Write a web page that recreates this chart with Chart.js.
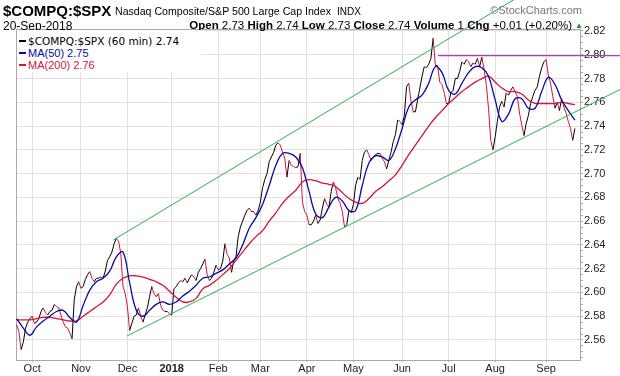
<!DOCTYPE html>
<html><head><meta charset="utf-8">
<script src="https://cdn.jsdelivr.net/npm/chart.js@4/dist/chart.umd.min.js"></script>
<style>
body{margin:0;background:#fff;}
#wrap{position:relative;width:620px;height:376px;overflow:hidden;background:#fff;}
canvas{position:absolute;left:0;top:0;}
.t{position:absolute;white-space:nowrap;font-family:"Liberation Sans",Arial,sans-serif;color:#000;line-height:1;z-index:2;}
#legend{position:absolute;left:17px;top:30px;width:184px;height:42px;background:#fff;z-index:2;}
.le{position:absolute;left:2px;white-space:nowrap;line-height:12px;height:12px;}
.le span.d{display:inline-block;width:7px;height:2px;vertical-align:middle;margin-right:2px;position:relative;top:-1px;}
</style></head><body>
<div id="wrap">
<canvas id="c" width="620" height="376"></canvas>
<div class="t" id="sym" style="left:3px;top:3px;font-size:15px;font-weight:bold"></div>
<div class="t" id="name" style="left:115px;top:6px;font-size:10.6px"></div>
<div class="t" id="exch" style="left:337px;top:7px;font-size:10px"></div>
<div class="t" id="copy" style="right:38px;top:5px;font-size:11px;color:#777"></div>
<div class="t" id="date" style="left:3px;top:20px;font-size:12px"></div>
<div class="t" id="quote" style="right:48px;top:20px;font-size:11.5px"></div>
<div class="t" style="left:575px;top:22px;font-size:8px;color:#2a8a2a">▲</div>
<div id="legend"></div>
</div>
<script>
// ---- text ----
const symbol = '$COMPQ:$SPX';
const symbolName = 'Nasdaq Composite/S&P 500 Large Cap Index';
const exchange = 'INDX';
const copyright = '©StockCharts.com';
const dateText = '20-Sep-2018';
const quoteLabels = ['Open', 'High', 'Low', 'Close', 'Volume', 'Chg'];
const quoteValues = ['2.73', '2.74', '2.73', '2.74', '1', '+0.01 (+0.20%)'];
const legendLabels = ['$COMPQ:$SPX (60 min) 2.74', 'MA(50) 2.75', 'MA(200) 2.76'];

// ---- axes ----
const monthLabels = ['Oct', 'Nov', 'Dec', '2018', 'Feb', 'Mar', 'Apr', 'May', 'Jun', 'Jul', 'Aug', 'Sep'];
const monthStartDay = [7, 29, 50, 70, 91, 110, 131, 152, 174, 195, 216, 239]; // trading-day index of month start
const yTickLabels = [2.56, 2.58, 2.60, 2.62, 2.64, 2.66, 2.68, 2.70, 2.72, 2.74, 2.76, 2.78, 2.80, 2.82];

// ---- series (one value per trading day) ----
const price = [
2.573,2.567,2.552,2.558,2.570,2.575,2.578,2.580,2.574,2.575,
2.578,2.584,2.587,2.583,2.581,2.584,2.585,2.590,2.588,2.587,
2.581,2.575,2.571,2.570,2.566,2.561,2.594,2.605,2.609,2.6035,
2.605,2.611,2.615,2.6175,2.612,2.609,2.612,2.612,2.613,2.612,
2.618,2.627,2.630,2.634,2.641,2.6455,2.643,2.633,2.605,2.599,
2.588,2.568,2.574,2.580,2.581,2.587,2.580,2.575,2.581,2.587,
2.5965,2.605,2.599,2.5965,2.599,2.589,2.585,2.584,2.584,2.582,
2.581,2.603,2.605,2.608,2.610,2.609,2.612,2.608,2.612,2.615,
2.613,2.610,2.617,2.620,2.624,2.628,2.615,2.610,2.612,2.617,
2.623,2.619,2.620,2.626,2.641,2.632,2.629,2.617,2.627,2.630,
2.647,2.655,2.660,2.665,2.669,2.671,2.668,2.668,2.665,2.669,
2.676,2.688,2.695,2.700,2.710,2.714,2.718,2.724,2.726,2.724,
2.718,2.713,2.697,2.711,2.707,2.706,2.705,2.706,2.717,2.676,
2.668,2.665,2.657,2.657,2.660,2.665,2.658,2.661,2.671,2.679,
2.674,2.672,2.685,2.693,2.688,2.679,2.675,2.668,2.655,2.657,
2.669,2.667,2.674,2.690,2.697,2.695,2.711,2.718,2.720,2.716,
2.711,2.714,2.716,2.717,2.717,2.713,2.710,2.704,2.711,2.718,
2.727,2.733,2.745,2.744,2.741,2.749,2.773,2.776,2.761,2.752,
2.752,2.762,2.772,2.782,2.790,2.789,2.792,2.797,2.814,2.791,
2.791,2.777,2.775,2.768,2.759,2.759,2.768,2.770,2.780,2.780,
2.786,2.794,2.792,2.796,2.794,2.790,2.793,2.792,2.797,2.790,
2.798,2.788,2.775,2.755,2.728,2.720,2.731,2.744,2.756,2.761,
2.756,2.768,2.766,2.770,2.773,2.769,2.765,2.751,2.741,2.732,
2.742,2.749,2.759,2.765,2.770,2.773,2.782,2.789,2.794,2.796,
2.783,2.776,2.765,2.755,2.760,2.753,2.763,2.756,2.751,2.744,
2.738,2.728,2.738
];
const maStep = 3; // moving averages read every 3 trading days
const ma50 = [
2.578,2.570,2.564,2.571,2.576,2.580,2.584,2.585,2.579,2.575,
2.589,2.602,2.609,2.612,2.618,2.630,2.634,2.608,2.585,2.580,
2.585,2.590,2.592,2.590,2.592,2.597,2.601,2.606,2.612,2.613,
2.616,2.619,2.624,2.629,2.640,2.654,2.663,2.674,2.690,2.707,
2.717,2.717,2.714,2.705,2.685,2.666,2.663,2.672,2.680,2.677,
2.669,2.669,2.690,2.709,2.715,2.714,2.711,2.721,2.738,2.756,
2.762,2.766,2.776,2.790,2.785,2.770,2.767,2.776,2.785,2.790,
2.789,2.782,2.762,2.744,2.750,2.763,2.763,2.755,2.755,2.769,
2.781,2.775,2.762,2.753,2.745
];
const ma200 = [
2.577,2.577,2.577,2.578,2.579,2.579,2.578,2.577,2.576,2.576,
2.580,2.584,2.588,2.592,2.598,2.607,2.612,2.614,2.614,2.613,
2.611,2.609,2.606,2.601,2.596,2.592,2.592,2.595,2.603,2.606,
2.610,2.615,2.620,2.627,2.634,2.641,2.647,2.652,2.660,2.667,
2.675,2.681,2.686,2.693,2.695,2.694,2.692,2.691,2.689,2.684,
2.679,2.676,2.675,2.679,2.685,2.689,2.694,2.699,2.707,2.716,
2.724,2.732,2.740,2.747,2.753,2.759,2.764,2.769,2.773,2.777,
2.780,2.782,2.777,2.772,2.769,2.769,2.767,2.762,2.759,2.759,
2.759,2.759,2.760,2.759,2.758
];
// trend lines: [trading-day index, value]
const upperChannel = [[43.6, 2.6441], [230, 2.8526]];
const lowerChannel = [[49.8, 2.5634], [272.4, 2.7708]];
const resistance = [[190.2, 2.7992], [272.4, 2.7992]];

// ---- colours ----
const C = {up:'#000000', down:'#d0143c', ma50:'#0a0a9c', ma200:'#d4143c', green:'#2cb04c', purple:'#a83cc4', grid:'#e0e0e0', frame:'#a9a9a9'};

// ---- header DOM ----
document.getElementById('sym').textContent = symbol;
document.getElementById('name').textContent = symbolName;
document.getElementById('exch').textContent = exchange;
document.getElementById('copy').textContent = copyright;
document.getElementById('date').textContent = dateText;
const q = document.getElementById('quote');
quoteLabels.forEach((l, i) => {
  const b = document.createElement('b'); b.textContent = l; q.appendChild(b);
  q.appendChild(document.createTextNode(' ' + quoteValues[i] + (i < quoteLabels.length - 1 ? ' ' : '')));
});
const legendColors = [C.up, C.ma50, C.ma200];
const lg = document.getElementById('legend');
legendLabels.forEach((l, i) => {
  const d = document.createElement('div'); d.className = 'le'; d.style.top = (i * 12 + 5) + 'px';
  d.style.color = i === 0 ? '#000' : legendColors[i];
  d.style.fontFamily = i === 0 ? '"DejaVu Sans",Verdana,sans-serif' : '"Liberation Sans",Arial,sans-serif';
  d.style.fontSize = i === 0 ? '10.5px' : '11px';
  const s = document.createElement('span'); s.className = 'd'; s.style.background = legendColors[i];
  d.appendChild(s); d.appendChild(document.createTextNode(l)); lg.appendChild(d);
});

// ---- chart ----
const font = '"Liberation Sans", Arial, sans-serif';
const pts = arr => arr.map(p => ({x: p[0], y: p[1]}));
const yMin = 2.54317, yMax = 2.82168;
const isMajor = v => Math.abs(v * 50 - Math.round(v * 50)) < 1e-6;

const frame = {
  id: 'frame',
  beforeDatasetsDraw(ch) {
    const a = ch.chartArea, g = ch.ctx;
    g.save(); g.strokeStyle = C.frame; g.lineWidth = 1;
    g.beginPath();
    g.moveTo(Math.round(a.left) + 0.5, Math.round(a.bottom) + 0.5);
    g.lineTo(Math.round(a.left) + 0.5, Math.round(a.top) + 0.5);
    g.lineTo(Math.round(a.right) + 0.5, Math.round(a.top) + 0.5);
    g.stroke(); g.restore();
  }
};

new Chart(document.getElementById('c'), {
  type: 'line',
  data: {
    datasets: [
      {data: pts(upperChannel), borderColor: C.green, borderWidth: 1, clip: false, order: 0},
      {data: pts(lowerChannel), borderColor: C.green, borderWidth: 1, clip: false, order: 0},
      {data: pts(resistance), borderColor: C.purple, borderWidth: 1.3, clip: false, order: 0},
      {data: ma50.map((v, k) => ({x: k * maStep, y: v})), borderColor: C.ma50, borderWidth: 1.3, tension: 0.4, order: 1},
      {data: ma200.map((v, k) => ({x: k * maStep, y: v})), borderColor: C.ma200, borderWidth: 1.3, tension: 0.4, order: 1},
      {data: price.map((v, i) => ({x: i, y: v})), borderWidth: 1, borderColor: C.up,
       segment: {borderColor: c => c.p1.parsed.y < c.p0.parsed.y ? C.down : C.up}, order: 2}
    ]
  },
  options: {
    responsive: false, animation: false, devicePixelRatio: 1,
    layout: {padding: {left: 16, top: 29, right: 0, bottom: 0}},
    plugins: {legend: {display: false}, tooltip: {enabled: false}},
    elements: {point: {radius: 0}, line: {borderJoinStyle: 'round'}},
    scales: {
      x: {
        type: 'linear', min: -0.3, max: 254.3, position: 'bottom',
        afterFit: s => { s.height = 16; },
        afterBuildTicks: s => { s.ticks = monthStartDay.map(v => ({value: v})); },
        ticks: {autoSkip: false, maxRotation: 0, padding: 0, color: '#222',
          font: c => ({family: font, size: 11, weight: monthLabels[c.index] === '2018' ? 'bold' : 'normal'}),
          callback: (v, i) => monthLabels[i]},
        grid: {color: C.grid, tickColor: C.frame, tickLength: 2},
        border: {color: C.frame}
      },
      y: {
        type: 'linear', position: 'right', min: yMin, max: yMax,
        afterFit: s => { s.width = 40; },
        afterBuildTicks: s => {
          const t = [];
          yTickLabels.forEach(v => { [0.015, 0.01, 0.005].forEach(d => { if (v - d > yMin) t.push({value: +(v - d).toFixed(3)}); }); t.push({value: v}); });
          s.ticks = t;
        },
        ticks: {autoSkip: false, padding: 1, color: '#222', font: {family: font, size: 11},
          callback: v => isMajor(v) ? v.toFixed(2) : ''},
        grid: {color: c => isMajor(c.tick.value) ? C.grid : 'rgba(0,0,0,0)', tickColor: C.frame, tickLength: 3},
        border: {color: C.frame}
      }
    }
  },
  plugins: [frame]
});
</script>
</body></html>
